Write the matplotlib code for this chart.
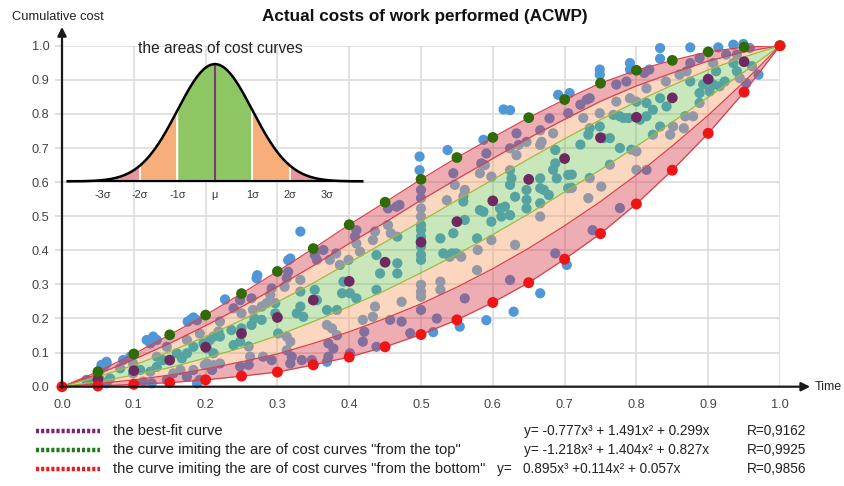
import numpy as np
import matplotlib
matplotlib.use("Agg")
import matplotlib.pyplot as plt
from matplotlib.lines import Line2D

plt.rcParams['font.family'] = ['Liberation Sans', 'DejaVu Sans']

# ---------------- data ----------------
t_grid = [0, .05, .10, .15, .20, .25, .30, .35, .40, .45, .50, .55, .60, .65, .70, .75, .80, .85, .90, .95, 1.0]
top_curve = [0, .044, .096, .152, .210, .273, .338, .405, .475, .541, .608, .672, .731, .789, .842, .890, .928, .957, .982, .996, 1.0]
upper_mid = [0, .037, .080, .127, .179, .234, .293, .355, .420, .482, .547, .609, .669, .729, .784, .837, .882, .920, .955, .982, 1.0]
upper_in = [0, .029, .063, .103, .147, .195, .248, .304, .364, .424, .485, .547, .607, .668, .727, .783, .836, .884, .929, .967, 1.0]
best_fit = [0, .022, .047, .078, .116, .156, .203, .254, .309, .365, .424, .484, .545, .608, .669, .730, .790, .847, .902, .953, 1.0]
lower_in = [0, .015, .034, .056, .084, .114, .150, .191, .235, .282, .334, .388, .446, .507, .571, .636, .705, .776, .849, .923, 1.0]
lower_mid = [0, .009, .020, .034, .052, .073, .096, .127, .161, .200, .243, .292, .346, .406, .472, .543, .621, .706, .796, .894, 1.0]
bottom_curve = [0, .002, .007, .012, .020, .031, .043, .064, .087, .117, .153, .196, .247, .305, .374, .449, .536, .635, .743, .864, 1.0]

scatter_t = [
    .062, .055, .053, .062, .044, .067, .058, .062, .053, .034, .188,
    .118, .127, .132, .123, .18, .175, .183, .188, .227,
    .081, .099, .109, .123, .132, .113, .125, .146, .155, .165, .167, .174, .16, .146, .183, .174, .192, .197, .211, .22,
    .202, .211, .183, .174, .192, .095, .099, .085, .141, .132,
    .332, .318, .315, .272, .271,
    .41, .408, .41, .415, .433, .436, .364, .355, .352, .373, .387, .382,
    .332, .332, .315, .313, .31, .292, .29, .264, .266, .248, .25, .239, .236,
    .268, .278, .264, .25, .22, .218, .206, .202, .211, .22, .209, .199,
    .239, .248, .26, .262, .248, .26, .28, .292, .313, .32, .334, .318,
    .352, .355, .332, .327, .336, .369, .383, .39, .392, .401, .41, .399,
    .369, .376, .371, .378, .371, .369, .419, .421, .419, .433, .436,
    .301, .313, .318, .297, .278, .285, .297,
    .348, .401, .438, .383,
    .498, .498, .537,
    .5, .5, .5, .5, .5, .5, .5, .5, .5, .5, .5, .5, .5, .5,
    .454, .458, .467, .466, .454, .47, .438, .443, .467, .467, .438, .473, .457, .473, .485,
    .527, .531, .54, .527, .527, .522, .536,
    .517, .554, .591, .629, .666, .703,
    .615, .624, .691, .707, .587,
    .633, .647, .666, .668, .684, .679, .705,
    .624, .633, .636, .666, .591, .589, .598, .582, .624, .626, .624, .666, .666, .687, .687, .684, .689, .705, .705,
    .631, .647, .647, .671, .678, .666, .647, .617, .61, .612, .624, .587, .582, .598, .578, .598, .579, .578,
    .561, .559, .561, .545, .543, .556, .549,
    .666, .631, .687, .739, .624, .561,
    .545, .547, .559, .584,
    .833, .833, .875, .914, .935, .949, .958, .94, .791, .791, .749, .749, .97, .961,
    .772, .786, .811, .818, .841, .86, .87, .875, .875, .888, .907, .911, .925, .935, .94, .944, .923, .907, .893, .888,
    .902, .916, .953,
    .731, .735, .722, .726, .749, .768, .772, .791, .8, .814, .814, .833, .842, .823, .814, .805, .782, .777, .789,
    .833, .847, .866, .868, .879, .888, .851, .823, .754, .763, .735, .733, .749, .722, .763, .777, .793, .8,
    .735, .751, .733, .777, .8, .814, .71, .71,
]
scatter_v = [
    .073, .064, .02, .01, .015, .024, .058, .068, .049, .02, .01,
    .137, .147, .137, .127, .198, .191, .203, .195, .256,
    .054, .039, .049, .044, .058, .015, .01, .02, .039, .049, .083, .098, .098, .117, .117, .137, .156, .127, .147, .147,
    .068, .063, .049, .029, .02, .088, .068, .078, .078, .088,
    .455, .376, .371, .327, .318,
    .459, .44, .42, .396, .43, .455, .401, .372, .386, .372, .357, .391,
    .313, .279, .337, .318, .293, .288, .269, .259, .225, .254, .215, .23, .166,
    .2, .196, .181, .171, .191, .162, .137, .112, .098, .068, .049, .064,
    .122, .132, .118, .088, .059, .064, .088, .078, .107, .088, .078, .068,
    .284, .254, .235, .215, .205, .225, .225, .274, .308, .274, .259, .372,
    .181, .171, .127, .112, .088, .073, .196, .161, .132, .205, .235,
    .156, .147, .132, .215, .235, .245, .245,
    .078, .098, .117, .151,
    .675, .635, .694,
    .577, .553, .523, .499, .474, .46, .44, .411, .387, .372, .299, .279, .264, .225,
    .474, .45, .44, .528, .523, .533, .386, .332, .362, .332, .284, .249, .196, .191, .157,
    .435, .391, .381, .308, .284, .2, .547,
    .16, .176, .195, .22, .274, .357,
    .813, .811, .856, .861, .724,
    .743, .718, .752, .718, .743, .787, .802,
    .699, .679, .709, .709, .684, .65, .616, .626, .635, .611, .592, .611, .582, .694, .655, .636, .611, .621, .582,
    .557, .577, .548, .577, .562, .538, .523, .528, .523, .499, .503, .513, .518, .484, .435, .43, .401, .342,
    .577, .543, .489, .45, .391, .381, .391,
    .499, .416, .391, .459, .313, .259,
    .626, .592, .558, .655,
    .993, .962, .995, .995, 1.003, 1.005, .993, .974, .949, .93, .93, .915, .915, .94,
    .886, .895, .92, .93, .895, .915, .925, .895, .949, .964, .949, .925, .974, .949, .925, .905, .895, .886, .886, .861,
    .866, .881, .89,
    .842, .846, .827, .788, .802, .797, .836, .846, .836, .832, .875, .846, .822, .812, .793, .783, .788, .793, .788,
    .763, .739, .758, .793, .793, .832, .763, .739, .729, .729, .758, .739, .763, .71, .651, .7, .695, .69,
    .612, .587, .553, .524, .636, .636, .622, .583,
]

x_ticks = [0.0, 0.1, 0.2, 0.3, 0.4, 0.5, 0.6, 0.7, 0.8, 0.9, 1.0]
y_ticks = [0.0, 0.1, 0.2, 0.3, 0.4, 0.5, 0.6, 0.7, 0.8, 0.9, 1.0]

sigma_labels = ['-3σ', '-2σ', '-1σ', 'μ', '1σ', '2σ', '3σ']
sigma_steps = [-3, -2, -1, 0, 1, 2, 3]

legend_labels = ['the best-fit curve',
                 'the curve imiting the are of cost curves "from the top"',
                 'the curve imiting the are of cost curves "from the bottom"']
legend_eqs = ['y= -0.777x³ + 1.491x² + 0.299x',
              'y= -1.218x³ + 1.404x² + 0.827x',
              'y=   0.895x³ +0.114x² + 0.057x']
legend_r = ['R=0,9162', 'R=0,9925', 'R=0,9856']

# ---------------- figure ----------------
W, H = 845, 486
fig = plt.figure(figsize=(W / 100, H / 100), dpi=100)
fig.patch.set_facecolor('white')
x0px, x1px = 62, 780
y0px, y1px = 386.7, 45.7
ax = fig.add_axes([x0px / W, 1 - y0px / H, (x1px - x0px) / W, (y0px - y1px) / H])
ax.set_xlim(0, 1)
ax.set_ylim(0, 1)
for s in ax.spines.values():
    s.set_visible(False)
ax.set_xticks(x_ticks)
ax.set_yticks(y_ticks)
ax.set_xticklabels([f"{v:.1f}" for v in x_ticks])
ax.set_yticklabels([f"{v:.1f}" for v in y_ticks])
ax.tick_params(axis='x', length=0, pad=9, labelsize=9.2, labelcolor='#444444')
ax.tick_params(axis='y', length=5, color='#d8d8d8', width=1.2, pad=4, labelsize=9.2, labelcolor='#444444')
ax.grid(True, color='#dcdcdc', lw=1.2, zorder=0)
ax.set_axisbelow(True)

# scatter (under translucent bands)
ax.scatter(scatter_t, scatter_v, s=54, color='#5097d8', edgecolors='none', zorder=2, clip_on=False)

t = np.array(t_grid)
red_fill = (212 / 255, 50 / 255, 65 / 255)
orange_fill = (247 / 255, 155 / 255, 95 / 255)
green_fill = (100 / 255, 190 / 255, 60 / 255)
ax.fill_between(t, upper_mid, top_curve, color=red_fill, alpha=0.40, lw=0, zorder=3)
ax.fill_between(t, upper_in, upper_mid, color=orange_fill, alpha=0.40, lw=0, zorder=3)
ax.fill_between(t, lower_in, upper_in, color=green_fill, alpha=0.35, lw=0, zorder=3)
ax.fill_between(t, lower_mid, lower_in, color=orange_fill, alpha=0.40, lw=0, zorder=3)
ax.fill_between(t, bottom_curve, lower_mid, color=red_fill, alpha=0.40, lw=0, zorder=3)

red_line = '#d8434b'
olive_line = '#a2b83e'
for arr, col in [(top_curve, red_line), (upper_mid, red_line), (upper_in, olive_line),
                 (lower_in, olive_line), (lower_mid, red_line), (bottom_curve, red_line)]:
    ax.plot(t, arr, color=col, lw=0.9, zorder=4)

# fitted points
ax.scatter(t[1:-1], best_fit[1:-1], s=60, color='#6e2a60', edgecolors='none', zorder=5, clip_on=False)
ax.scatter(t[1:], top_curve[1:], s=60, color='#2f6b06', edgecolors='none', zorder=6, clip_on=False)
ax.scatter(t, bottom_curve, s=62, color='#f01414', edgecolors='none', zorder=7, clip_on=False)

# axes arrows
ax.annotate('', xy=(0, 1.055), xytext=(0, -0.003), xycoords='data',
            arrowprops=dict(arrowstyle='-|>', color='#1a1a1a', lw=1.6, mutation_scale=13,
                            shrinkA=0, shrinkB=0), annotation_clip=False, zorder=8)
ax.annotate('', xy=(1.042, 0), xytext=(-0.003, 0), xycoords='data',
            arrowprops=dict(arrowstyle='-|>', color='#1a1a1a', lw=1.6, mutation_scale=13,
                            shrinkA=0, shrinkB=0), annotation_clip=False, zorder=8)
ax.text(1.049, 0.0, 'Time', ha='left', va='center', fontsize=9, color='#222222', clip_on=False)

# ---------------- inset normal curve ----------------
mu, sig, base, peak = 0.213, 0.0522, 0.602, 0.344
span = 3.93
xs = np.linspace(mu - span * sig, mu + span * sig, 600)
ys = base + peak * np.exp(-0.5 * ((xs - mu) / sig) ** 2)
zin = 9
def band(a, b, col):
    m = (xs >= mu + a * sig) & (xs <= mu + b * sig)
    ax.fill_between(xs[m], base, ys[m], color=col, lw=0, zorder=zin)
band(-span, -2, '#e8959b')
band(-2, -1, '#f8ae7b')
band(-1, 1, '#8dc662')
band(1, 2, '#f8ae7b')
band(2, span, '#e8959b')
for k in [-2, -1, 1, 2]:
    xk = mu + k * sig
    ax.plot([xk, xk], [base, base + peak * np.exp(-0.5 * k * k)], color='white', lw=1.3, zorder=zin + 0.5)
ax.plot([mu, mu], [base, base + peak], color='#7a3b74', lw=1.5, zorder=zin + 0.6)
ax.plot(xs, ys, color='black', lw=1.8, zorder=zin + 1)
ax.plot([xs[0], xs[-1]], [base, base], color='black', lw=1.5, zorder=zin + 1)
for lab, k in zip(sigma_labels, sigma_steps):
    ax.text(mu + k * sig, 0.561, lab, ha='center', va='center', fontsize=7.8, color='#333333', zorder=zin + 1)
ax.text(0.22, 0.993, 'the areas of cost curves', ha='center', va='center', fontsize=11.2,
        color='#222222', zorder=zin + 1)

# ---------------- titles ----------------
fig.text(425 / W, 1 - 16 / H, 'Actual costs of work performed (ACWP)', ha='center', va='center',
         fontsize=12.3, fontweight='bold', color='#111111')
fig.text(12 / W, 1 - 17 / H, 'Cumulative cost', ha='left', va='center', fontsize=9.3, color='#222222')

# ---------------- legend ----------------
row_y = [431, 450, 469]
row_cols = ['#7b1f78', '#1f7a1f', '#ee1c1c']
eq_x = [524, 524, 497]
for yy, col, lab, eq, r, ex in zip(row_y, row_cols, legend_labels, legend_eqs, legend_r, eq_x):
    fy = 1 - yy / H
    fig.add_artist(Line2D([36 / W, 100 / W], [fy, fy], color=col, lw=3.2,
                          linestyle=(0, (0.7, 0.45)), transform=fig.transFigure))
    fig.text(113 / W, fy, lab, ha='left', va='center', fontsize=10.6, color='#222222')
    fig.text(ex / W, fy, eq, ha='left', va='center', fontsize=9.8, color='#222222')
    fig.text(747 / W, fy, r, ha='left', va='center', fontsize=9.8, color='#222222')

fig.savefig('out.png', dpi=100)
